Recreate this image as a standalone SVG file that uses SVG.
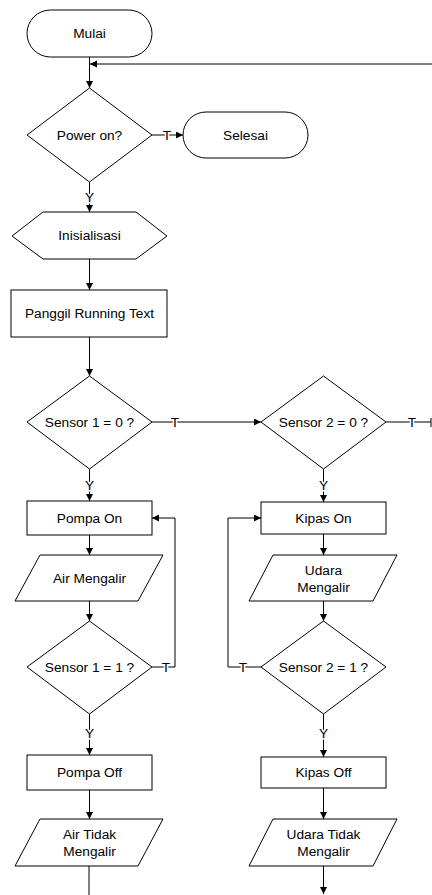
<svg xmlns="http://www.w3.org/2000/svg" width="432" height="895" viewBox="0 0 432 895">
<style>
.s{fill:#fff;stroke:#000;stroke-width:1}
.c{fill:none;stroke:#000;stroke-width:1}
text{font-family:"Liberation Sans",Arial,sans-serif;font-size:13.7px;fill:#000;text-anchor:middle}
.l{paint-order:stroke;stroke:#fff;stroke-width:3px}
</style>
<defs>
<marker id="a" markerUnits="userSpaceOnUse" markerWidth="8" markerHeight="8" refX="7" refY="3.5" orient="auto">
<path d="M0,0 L7,3.5 L0,7 z" fill="#000"/>
</marker>
</defs>
<g id="connectors">
<line class="c" x1="89.5" y1="57" x2="89.5" y2="88" marker-end="url(#a)"/>
<line class="c" x1="432" y1="64" x2="90" y2="64" marker-end="url(#a)"/>
<line class="c" x1="152" y1="135" x2="183" y2="135" marker-end="url(#a)"/>
<line class="c" x1="89.5" y1="182" x2="89.5" y2="212" marker-end="url(#a)"/>
<line class="c" x1="89.5" y1="259" x2="89.5" y2="290" marker-end="url(#a)"/>
<line class="c" x1="89.5" y1="337" x2="89.5" y2="376" marker-end="url(#a)"/>
<line class="c" x1="152" y1="422" x2="261" y2="422" marker-end="url(#a)"/>
<line class="c" x1="386" y1="422" x2="431" y2="422"/>
<line class="c" x1="431" y1="418" x2="431" y2="427"/>
<line class="c" x1="89.5" y1="469" x2="89.5" y2="501" marker-end="url(#a)"/>
<line class="c" x1="323.5" y1="469" x2="323.5" y2="502" marker-end="url(#a)"/>
<line class="c" x1="89.5" y1="535" x2="89.5" y2="555" marker-end="url(#a)"/>
<line class="c" x1="323.5" y1="534" x2="323.5" y2="555" marker-end="url(#a)"/>
<line class="c" x1="89.5" y1="601" x2="89.5" y2="621" marker-end="url(#a)"/>
<line class="c" x1="323.5" y1="601" x2="323.5" y2="621" marker-end="url(#a)"/>
<path class="c" d="M152,667 H175 V518 H152" marker-end="url(#a)"/>
<path class="c" d="M261,667 H228 V518 H261" marker-end="url(#a)"/>
<line class="c" x1="89.5" y1="714" x2="89.5" y2="755" marker-end="url(#a)"/>
<line class="c" x1="323.5" y1="714" x2="323.5" y2="757" marker-end="url(#a)"/>
<line class="c" x1="89.5" y1="790" x2="89.5" y2="819" marker-end="url(#a)"/>
<line class="c" x1="323.5" y1="788" x2="323.5" y2="819" marker-end="url(#a)"/>
<line class="c" x1="89" y1="866" x2="89" y2="895"/>
<line class="c" x1="323.5" y1="866" x2="323.5" y2="894" marker-end="url(#a)"/>
<text class="l" x="167" y="140">T</text>
<text class="l" x="89.5" y="202">Y</text>
<text class="l" x="175" y="427">T</text>
<text class="l" x="412" y="427">T</text>
<text class="l" x="89.5" y="490">Y</text>
<text class="l" x="323.5" y="490">Y</text>
<text class="l" x="166" y="672">T</text>
<text class="l" x="243" y="672">T</text>
<text class="l" x="89.5" y="738">Y</text>
<text class="l" x="323.5" y="738">Y</text>
</g>
<g id="mulai"><rect class="s" x="27" y="10" width="125" height="47" rx="23.5"/><text x="89.5" y="38">Mulai</text></g>
<g id="power"><polygon class="s" points="89.5,88 152,135 89.5,182 27,135"/><text x="89.5" y="140">Power on?</text></g>
<g id="selesai"><rect class="s" x="183" y="112" width="125" height="46" rx="23"/><text x="245.5" y="140">Selesai</text></g>
<g id="inisialisasi"><polygon class="s" points="12,236 43,212 136,212 167,236 136,259 43,259"/><text x="89.5" y="240">Inisialisasi</text></g>
<g id="running"><rect class="s" x="11" y="290" width="156" height="47"/><text x="89.5" y="318">Panggil Running Text</text></g>
<g id="sensor1_0"><polygon class="s" points="89.5,376 152,422 89.5,469 27,422"/><text x="89.5" y="427">Sensor 1 = 0 ?</text></g>
<g id="sensor2_0"><polygon class="s" points="323.5,376 386,422 323.5,469 261,422"/><text x="323.5" y="427">Sensor 2 = 0 ?</text></g>
<g id="pompa_on"><rect class="s" x="27" y="501" width="125" height="34"/><text x="89.5" y="523">Pompa On</text></g>
<g id="kipas_on"><rect class="s" x="261" y="502" width="125" height="32"/><text x="323.5" y="523">Kipas On</text></g>
<g id="air_mengalir"><polygon class="s" points="40,555 163,555 138,601 15,601"/><text x="89.5" y="583">Air Mengalir</text></g>
<g id="udara_mengalir"><polygon class="s" points="273,555 397,555 373,601 249,601"/><text x="323.5" y="575">Udara</text><text x="323.5" y="592">Mengalir</text></g>
<g id="sensor1_1"><polygon class="s" points="89.5,621 152,667 89.5,714 27,667"/><text x="89.5" y="672">Sensor 1 = 1 ?</text></g>
<g id="sensor2_1"><polygon class="s" points="323.5,621 386,667 323.5,714 261,667"/><text x="323.5" y="672">Sensor 2 = 1 ?</text></g>
<g id="pompa_off"><rect class="s" x="27" y="755" width="125" height="35"/><text x="89.5" y="777">Pompa Off</text></g>
<g id="kipas_off"><rect class="s" x="261" y="757" width="125" height="31"/><text x="323.5" y="777">Kipas Off</text></g>
<g id="air_tidak"><polygon class="s" points="40,819 163,819 138,866 15,866"/><text x="89.5" y="839">Air Tidak</text><text x="89.5" y="856">Mengalir</text></g>
<g id="udara_tidak"><polygon class="s" points="273,819 397,819 373,866 249,866"/><text x="323.5" y="839">Udara Tidak</text><text x="323.5" y="856">Mengalir</text></g>
</svg>
